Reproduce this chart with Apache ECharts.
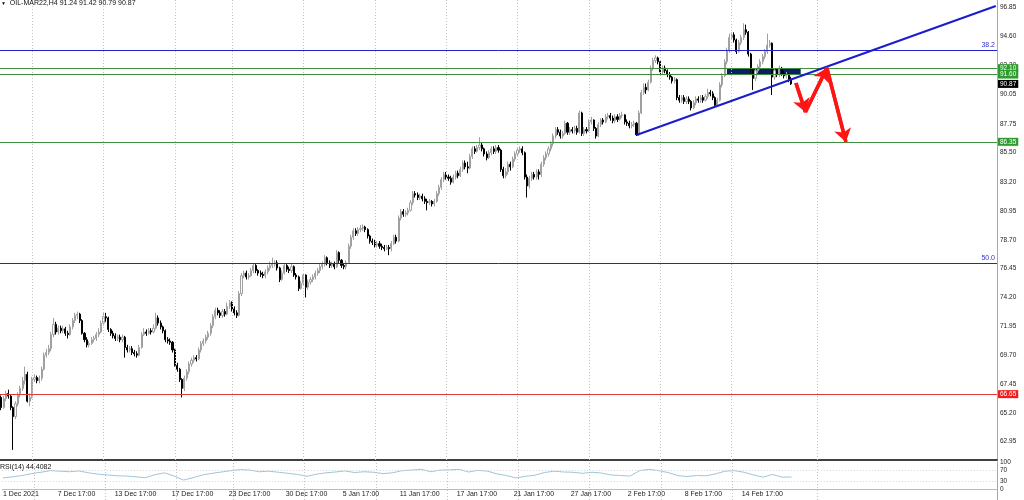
<!DOCTYPE html>
<html><head><meta charset="utf-8">
<script src="https://cdn.jsdelivr.net/npm/echarts@6/dist/echarts.min.js"></script>
<style>html,body{margin:0;padding:0;background:#fff}#c{width:1024px;height:500px}</style>
</head><body><div id="c"></div>
<script>
const symbolTitle = 'OIL-MAR22,H4 91.24 91.42 90.79 90.87';
const rsiTitle = 'RSI(14) 44.4082';
// [open, close, low, high] per H4 bar
const candles = [
[66.40,65.60,65.40,66.55],[65.60,66.30,65.50,66.50],[66.30,66.70,66.10,66.90],[66.70,66.50,66.30,67.00],[66.50,65.60,65.40,66.60],[65.60,64.90,62.30,65.70],[64.90,65.90,64.70,66.10],[65.90,66.60,65.70,66.80],[66.60,67.10,66.40,67.30],[67.10,67.70,66.90,68.00],
[67.70,68.20,67.40,68.80],[68.20,66.10,66.00,68.40],[66.10,66.40,65.70,66.70],[66.40,67.80,66.30,68.00],[67.80,67.95,67.60,68.20],[67.95,67.70,67.50,68.10],[67.70,67.90,67.50,68.10],[67.90,68.60,67.70,68.80],[68.60,69.70,68.50,69.90],[69.70,69.90,69.50,70.20],
[69.90,70.20,69.70,70.50],[70.20,71.30,70.00,71.50],[71.30,72.10,71.10,72.60],[72.10,71.50,71.30,72.30],[71.50,71.80,71.30,72.00],[71.80,71.60,71.40,72.00],[71.60,71.75,71.40,72.00],[71.75,71.40,71.20,71.90],[71.40,71.30,71.00,71.60],[71.30,71.90,71.20,72.10],
[71.90,72.40,71.70,72.60],[72.40,72.80,72.20,73.00],[72.80,72.90,72.50,73.10],[72.90,72.40,72.20,73.00],[72.40,71.40,71.30,72.50],[71.40,70.90,70.70,71.50],[70.90,70.50,70.30,71.10],[70.50,70.60,70.30,70.80],[70.60,70.90,70.50,71.10],[70.90,71.00,70.70,71.20],
[71.00,71.30,70.80,71.50],[71.30,71.50,71.10,71.80],[71.50,72.20,71.40,72.40],[72.20,72.70,72.00,73.00],[72.70,72.60,72.30,73.00],[72.60,71.70,71.50,72.70],[71.70,71.40,71.20,71.80],[71.40,71.20,71.00,71.60],[71.20,71.00,70.80,71.40],[71.00,71.10,70.80,71.30],
[71.10,70.90,70.70,71.30],[70.90,71.10,70.70,71.30],[71.10,70.30,69.50,71.20],[70.30,70.10,69.90,70.50],[70.10,70.20,69.90,70.40],[70.20,69.90,69.70,70.40],[69.90,69.80,69.60,70.10],[69.80,69.70,69.50,70.00],[69.70,70.30,69.60,70.50],[70.30,71.30,70.20,71.50],
[71.30,71.50,71.20,71.80],[71.50,71.40,71.20,71.70],[71.40,71.60,71.30,71.80],[71.60,71.50,71.30,71.80],[71.50,71.80,71.40,72.10],[71.80,72.60,71.70,73.00],[72.60,72.20,72.00,72.80],[72.20,71.90,71.70,72.40],[71.90,71.60,71.40,72.00],[71.60,70.90,70.70,71.70],
[70.90,70.80,70.60,71.10],[70.80,70.70,70.50,71.00],[70.70,70.10,69.90,70.80],[70.10,68.90,68.80,70.20],[68.90,68.60,68.40,69.10],[68.60,67.80,67.60,68.70],[67.80,67.10,66.40,67.90],[67.10,67.90,66.90,68.10],[67.90,68.40,67.70,68.60],[68.40,69.00,68.20,69.20],
[69.00,69.30,68.80,69.50],[69.30,69.50,69.10,69.70],[69.50,69.40,69.20,69.70],[69.40,70.10,69.30,70.30],[70.10,70.60,69.90,70.80],[70.60,70.80,70.40,71.00],[70.80,71.10,70.60,71.30],[71.10,71.40,70.90,71.60],[71.40,72.00,71.20,72.20],[72.00,72.70,71.80,72.90],
[72.70,73.20,72.50,73.40],[73.20,73.00,72.80,73.40],[73.00,72.80,72.60,73.20],[72.80,73.10,72.60,73.30],[73.10,72.90,72.70,73.30],[72.90,73.50,72.80,73.80],[73.50,73.80,73.30,74.00],[73.80,73.30,73.10,73.90],[73.30,73.00,72.80,73.50],[73.00,72.80,72.60,73.20],
[72.80,74.50,72.70,74.70],[74.50,75.90,74.30,76.10],[75.90,76.10,75.70,76.30],[76.10,75.80,75.60,76.30],[75.80,75.90,75.60,76.10],[75.90,76.30,75.80,76.50],[76.30,76.70,76.10,76.90],[76.70,76.30,76.10,76.80],[76.30,76.10,75.90,76.40],[76.10,76.00,75.80,76.30],
[76.00,75.90,75.70,76.20],[75.90,76.20,75.70,76.40],[76.20,76.50,76.00,76.70],[76.50,76.70,76.30,77.00],[76.70,76.80,76.50,77.30],[76.80,76.90,76.60,77.10],[76.90,76.50,76.30,77.10],[76.50,75.60,75.40,76.60],[75.60,76.10,75.50,76.30],[76.10,76.70,76.00,76.90],
[76.70,76.40,76.20,76.80],[76.40,76.30,76.10,76.60],[76.30,76.60,76.10,76.80],[76.60,75.95,75.80,76.70],[75.95,75.80,75.60,76.10],[75.80,74.90,74.70,75.90],[74.90,75.30,74.80,75.50],[75.30,75.95,75.10,76.10],[75.95,75.00,74.20,76.00],[75.00,75.40,74.80,75.60],
[75.40,75.60,75.20,75.80],[75.60,75.80,75.40,76.00],[75.80,76.10,75.60,76.30],[76.10,76.30,75.90,76.50],[76.30,76.60,76.10,76.80],[76.60,76.80,76.40,77.00],[76.80,77.30,76.60,77.50],[77.30,76.90,76.70,77.40],[76.90,76.70,76.50,77.10],[76.70,76.80,76.50,77.00],
[76.80,76.60,76.40,77.00],[76.60,77.70,76.50,77.90],[77.70,77.10,76.90,77.80],[77.10,76.70,76.50,77.20],[76.70,76.60,76.40,76.90],[76.60,76.90,76.40,77.10],[76.90,78.20,76.80,78.40],[78.20,78.90,78.00,79.10],[78.90,79.40,78.70,79.60],[79.40,79.20,79.00,79.60],
[79.20,79.50,79.00,79.70],[79.50,79.60,79.30,79.86],[79.60,79.70,79.40,79.90],[79.70,79.50,79.30,79.80],[79.50,79.00,78.80,79.60],[79.00,78.60,78.40,79.10],[78.60,78.50,78.30,78.80],[78.50,78.30,78.10,78.70],[78.30,78.40,78.10,78.60],[78.40,78.20,78.00,78.60],
[78.20,78.10,77.90,78.40],[78.10,78.00,77.80,78.30],[78.00,78.10,77.90,78.30],[78.10,78.00,77.50,78.30],[78.00,78.40,77.80,78.60],[78.40,78.90,78.30,79.10],[78.90,78.60,78.40,79.10],[78.60,80.40,78.50,80.60],[80.40,80.90,80.20,81.10],[80.90,80.70,80.50,81.10],
[80.70,80.80,80.50,81.00],[80.80,81.00,80.60,81.20],[81.00,81.60,80.90,81.80],[81.60,82.30,81.40,82.50],[82.30,82.20,82.00,82.50],[82.20,82.00,81.80,82.40],[82.00,82.10,81.80,82.30],[82.10,81.90,81.70,82.30],[81.90,81.70,81.50,82.10],[81.70,81.60,81.00,81.90],
[81.60,81.70,81.40,81.90],[81.70,81.50,81.30,81.80],[81.50,81.70,81.30,81.90],[81.70,82.30,81.60,82.50],[82.30,82.80,82.10,83.00],[82.80,83.40,82.60,83.60],[83.40,83.80,83.20,84.00],[83.80,83.60,83.40,84.00],[83.60,83.50,83.30,83.80],[83.50,83.20,83.00,83.70],
[83.20,83.60,83.10,83.80],[83.60,83.90,83.40,84.10],[83.90,83.70,83.50,84.10],[83.70,84.20,83.60,84.40],[84.20,84.70,84.00,84.90],[84.70,84.40,84.20,84.90],[84.40,84.30,83.90,84.80],[84.30,85.20,84.20,85.40],[85.20,85.80,85.00,86.00],[85.80,85.60,85.40,86.00],
[85.60,85.90,85.50,86.10],[85.90,86.10,85.70,86.70],[86.10,85.80,85.60,86.30],[85.80,85.40,85.20,85.90],[85.40,85.10,84.90,85.60],[85.10,85.50,85.00,85.70],[85.50,85.80,85.30,86.00],[85.80,85.60,85.40,86.00],[85.60,85.90,85.40,86.10],[85.90,85.70,85.50,86.10],
[85.70,84.20,84.00,85.80],[84.20,83.70,83.50,84.40],[83.70,84.00,83.50,84.30],[84.00,84.60,83.80,84.80],[84.60,84.40,84.10,84.80],[84.40,85.00,84.30,85.20],[85.00,85.40,84.80,85.60],[85.40,85.70,85.20,85.90],[85.70,85.80,85.50,86.00],[85.80,85.50,85.30,86.00],
[85.50,83.60,83.40,85.60],[83.60,82.90,82.00,83.80],[82.90,83.50,82.70,83.70],[83.50,83.80,83.30,84.00],[83.80,83.60,83.40,84.00],[83.60,84.00,83.40,84.20],[84.00,83.80,83.40,84.20],[83.80,84.60,83.60,84.80],[84.60,85.10,84.40,85.30],[85.10,85.40,84.90,85.60],
[85.40,85.80,85.20,86.00],[85.80,86.20,85.60,86.40],[86.20,86.80,86.00,87.00],[86.80,87.30,86.60,87.50],[87.30,87.10,86.90,87.50],[87.10,86.80,86.60,87.30],[86.80,87.00,86.60,87.20],[87.00,87.80,86.90,88.00],[87.80,87.10,86.90,87.90],[87.10,87.30,86.90,87.50],
[87.30,87.20,87.00,87.50],[87.20,87.40,87.00,87.60],[87.40,87.10,86.90,87.60],[87.10,88.60,87.00,88.80],[88.60,87.00,86.80,88.70],[87.00,87.30,86.80,87.50],[87.30,87.20,87.00,87.50],[87.20,87.90,87.10,88.10],[87.90,88.05,87.70,88.30],[88.05,87.40,87.20,88.10],
[87.40,86.80,86.60,87.50],[86.80,87.70,86.70,87.90],[87.70,88.05,87.50,88.20],[88.05,87.90,87.70,88.20],[87.90,88.30,87.80,88.50],[88.30,88.40,88.10,88.60],[88.40,88.20,88.00,88.60],[88.20,88.00,87.80,88.40],[88.00,88.30,87.80,88.50],[88.30,88.10,87.90,88.50],
[88.10,88.40,88.00,88.60],[88.40,88.45,88.20,88.70],[88.45,87.90,87.70,88.50],[87.90,87.80,87.60,88.10],[87.80,87.60,87.40,88.00],[87.60,87.70,87.40,87.90],[87.70,87.80,87.50,88.00],[87.80,86.90,86.80,87.90],[86.90,88.60,86.80,88.80],[88.60,90.20,88.50,90.40],
[90.20,90.60,90.00,90.90],[90.60,90.40,90.10,90.90],[90.40,91.00,90.30,91.20],[91.00,92.10,90.90,92.30],[92.10,92.70,91.90,92.90],[92.70,92.90,92.50,93.10],[92.90,92.60,92.40,93.00],[92.60,91.80,91.60,92.70],[91.80,92.10,91.60,92.30],[92.10,91.90,91.70,92.30],
[91.90,91.60,91.40,92.00],[91.60,91.40,91.20,91.80],[91.40,91.10,90.90,91.50],[91.10,91.20,90.90,91.40],[91.20,89.80,89.60,91.30],[89.80,89.60,89.40,90.00],[89.60,89.80,89.40,90.00],[89.80,89.50,89.30,90.00],[89.50,89.70,89.30,89.90],[89.70,89.50,89.30,89.90],
[89.50,89.00,88.80,89.60],[89.00,89.40,88.90,89.60],[89.40,89.70,89.20,89.90],[89.70,89.60,89.40,89.90],[89.60,89.80,89.40,90.00],[89.80,89.60,89.40,90.00],[89.60,89.90,89.50,90.10],[89.90,90.20,89.70,90.50],[90.20,90.10,89.90,90.40],[90.10,89.80,89.60,90.30],
[89.80,89.20,89.00,89.90],[89.20,89.60,89.10,89.80],[89.60,90.80,89.50,91.00],[90.80,91.50,90.60,91.70],[91.50,92.60,91.40,92.80],[92.60,93.50,92.40,93.70],[93.50,94.50,93.30,94.80],[94.50,94.70,94.30,94.90],[94.70,94.30,94.10,94.90],[94.30,93.40,93.20,94.40],
[93.40,94.10,93.30,94.30],[94.10,94.50,93.90,94.70],[94.50,95.10,94.30,95.60],[95.10,94.90,94.70,95.50],[94.90,93.20,93.00,95.00],[93.20,91.96,91.70,93.30],[91.96,91.30,90.40,92.10],[91.30,91.90,91.10,92.10],[91.90,92.20,91.70,92.40],[92.20,92.60,92.00,92.80],
[92.60,93.00,92.40,93.20],[93.00,93.40,92.80,93.60],[93.40,93.90,93.20,94.80],[93.90,94.05,93.70,94.30],[94.05,91.40,90.00,94.10],[91.40,91.90,91.20,92.10],[91.90,91.60,91.40,92.10],[91.60,92.10,91.40,92.30],[92.10,91.70,91.50,92.20],[91.70,91.50,91.30,91.90],
[91.50,91.60,91.30,91.80],[91.60,91.24,91.00,91.70],[91.24,90.87,90.79,91.42]
];
// RSI(14) read every 4 bars
const rsiStep = 4;
const rsiValues = [41,45,50,57,62,68,66,64,67,60,55,52,49,48,45,42,53,60,48,33,42,52,58,63,68,72,70,64,66,62,58,54,47,55,60,63,67,61,64,62,57,60,68,70,73,64,70,71,73,63,69,66,56,50,41,47,51,61,66,63,62,58,62,59,52,50,48,68,73,68,61,50,46,50,49,56,66,68,62,52,44,54,44,44.4];
const slotCount = 419;
const xTickIdx = [0,23,47,71,95,119,143,167,191,215,239,263,287,311];
const xTickText = ['1 Dec 2021','7 Dec 17:00','13 Dec 17:00','17 Dec 17:00','23 Dec 17:00','30 Dec 17:00','5 Jan 17:00','11 Jan 17:00','17 Jan 17:00','21 Jan 17:00','27 Jan 17:00','2 Feb 17:00','8 Feb 17:00','14 Feb 17:00'];
const weekStartIdx = [13,43,73,97,127,157,187,217,247,277,307,343];
const yTicks = [96.85,94.60,92.30,90.05,87.75,85.50,83.20,80.95,78.70,76.45,74.20,71.95,69.70,67.45,65.20,62.95];
const rsiTicks = [100,70,30,0];
const rsiLevels = [70,30];
const fibValues = [93.52,76.89];
const fibText = ['38.2','50.0'];
const greenLevels = [92.10,91.60,86.35];
const redLevels = [66.65];
const lastPrice = 90.87;
const trendStart = [267,86.88];
const trendEnd = [418,96.95];
const arrowPath = [[334,90.94],[338,88.68],[347,92.11],[355,86.34]];
const zoneX = [305,336];
const zoneY = [92.10,91.62];

const FONT = 'Liberation Sans, Arial, sans-serif';
const names = Array.from({length: slotCount}, (_, i) => String(i));
const tickMap = {};
xTickIdx.forEach((idx, k) => { tickMap[idx] = xTickText[k]; });
const gridLineStyle = {color: '#c4c4c4', type: [1, 2], width: 1};

const levelLines = [];
fibValues.forEach((v, k) => {
  levelLines.push({
    yAxis: v, lineStyle: {color: '#2424cc', width: 1, type: 'solid'},
    label: {show: true, position: 'insideEndTop', formatter: fibText[k], color: '#3030d0', fontSize: 7, fontFamily: FONT, distance: [2, 1]}
  });
});
greenLevels.forEach(v => {
  levelLines.push({
    yAxis: v, lineStyle: {color: '#3f8f3f', width: 1, type: 'solid'},
    label: {show: true, position: 'end', formatter: v.toFixed(2), color: '#fff', backgroundColor: '#2f9a2f', padding: [1, 2, 0, 2], fontSize: 6.5, fontFamily: FONT, distance: 1}
  });
});
redLevels.forEach(v => {
  levelLines.push({
    yAxis: v, lineStyle: {color: '#e03a3a', width: 1, type: 'solid'},
    label: {show: true, position: 'end', formatter: v.toFixed(2), color: '#fff', backgroundColor: '#ee1c1c', padding: [1, 2, 0, 2], fontSize: 6.5, fontFamily: FONT, distance: 1}
  });
});
levelLines.push({
  yAxis: lastPrice, lineStyle: {color: 'rgba(0,0,0,0)', width: 0},
  label: {show: true, position: 'end', formatter: lastPrice.toFixed(2), color: '#fff', backgroundColor: '#000', padding: [1, 2, 0, 2], fontSize: 6.5, fontFamily: FONT, distance: 1}
});
const weekLines = weekStartIdx.map(i => ({xAxis: i, lineStyle: gridLineStyle, label: {show: false}}));
const trendLine = [
  {coord: trendStart, lineStyle: {color: '#1c1ccc', width: 2, type: 'solid'}, label: {show: false}},
  {coord: trendEnd}
];
const arrowSegs = [];
for (let k = 0; k < arrowPath.length - 1; k++) {
  arrowSegs.push([
    {coord: arrowPath[k], symbol: 'none', lineStyle: {color: '#ff1414', width: 3.5, type: 'solid'}, label: {show: false}},
    {coord: arrowPath[k + 1], symbol: 'arrow', symbolSize: 13}
  ]);
}

const chart = echarts.init(document.getElementById('c'), null, {renderer: 'canvas'});
chart.setOption({
  animation: false,
  backgroundColor: '#ffffff',
  textStyle: {fontFamily: FONT},
  title: [
    {text: '{t|▼}  ' + symbolTitle, left: 1, top: 0, padding: 0,
     textStyle: {fontSize: 7, fontWeight: 'normal', color: '#111', fontFamily: FONT,
       rich: {t: {fontSize: 5, color: '#111'}}}},
    {text: rsiTitle, left: 0, top: 464, padding: 0,
     textStyle: {fontSize: 7, fontWeight: 'normal', color: '#111', fontFamily: FONT}}
  ],
  grid: [
    {left: 0, right: 27, top: 0, height: 460},
    {left: 0, right: 27, top: 462, height: 38}
  ],
  xAxis: [
    {type: 'category', gridIndex: 0, data: names, boundaryGap: true,
     axisLabel: {show: false}, axisTick: {show: false}, splitLine: {show: false},
     axisLine: {show: true, lineStyle: {color: '#404040', width: 2}}},
    {type: 'category', gridIndex: 1, data: names, boundaryGap: true,
     axisTick: {show: false}, splitLine: {show: false}, axisLine: {show: false},
     axisLabel: {show: true, interval: 0, inside: true, align: 'left', margin: 2,
       fontSize: 7, color: '#222', fontFamily: FONT,
       formatter: (v, idx) => tickMap[idx] || ''}}
  ],
  yAxis: [
    {type: 'value', gridIndex: 0, position: 'right', min: 61.51, max: 97.42, scale: true,
     splitLine: {show: false}, axisTick: {show: false},
     axisLine: {show: true, lineStyle: {color: '#a8a8a8', width: 1}},
     axisLabel: {show: true, customValues: yTicks, formatter: v => v.toFixed(2), margin: 3,
       fontSize: 6.5, color: '#222', fontFamily: FONT}},
    {type: 'value', gridIndex: 1, position: 'right', min: -40.7, max: 100,
     splitLine: {show: false}, axisTick: {show: false},
     axisLine: {show: true, lineStyle: {color: '#a8a8a8', width: 1}},
     axisLabel: {show: true, customValues: rsiTicks, formatter: v => String(v), margin: 3,
       fontSize: 6.5, color: '#222', fontFamily: FONT}}
  ],
  series: [
    {
      type: 'candlestick', xAxisIndex: 0, yAxisIndex: 0, data: candles,
      barWidth: 1.6,
      itemStyle: {color: '#ffffff', color0: '#000000', borderColor: '#a0a0a0', borderColor0: '#000000', borderWidth: 1},
      markLine: {silent: true, symbol: 'none', animation: false, precision: 2,
        data: [...weekLines, ...levelLines, trendLine, ...arrowSegs]}
    },
    {
      type: 'line', xAxisIndex: 0, yAxisIndex: 0, data: arrowPath, showSymbol: false, silent: true,
      lineStyle: {color: '#ff1414', width: 3.5}, z: 5,
      markArea: {silent: true, itemStyle: {color: '#0b1f66', opacity: 1},
        data: [[{coord: [zoneX[0], zoneY[0]]}, {coord: [zoneX[1], zoneY[1]]}]]}
    },
    {
      type: 'line', xAxisIndex: 1, yAxisIndex: 1, showSymbol: false, silent: true,
      data: rsiValues.map((v, k) => [k * rsiStep, v]),
      lineStyle: {color: '#9cc6de', width: 1},
      markLine: {silent: true, symbol: 'none', animation: false, label: {show: false},
        data: [
          ...rsiLevels.map(v => ({yAxis: v, lineStyle: {color: '#d4d4d4', type: [1, 2], width: 1}})),
          {yAxis: 0, lineStyle: {color: '#bbbbbb', type: 'solid', width: 1}},
          ...weekStartIdx.map(i => ({xAxis: i, lineStyle: gridLineStyle}))
        ]}
    }
  ]
});
</script>
</body></html>
